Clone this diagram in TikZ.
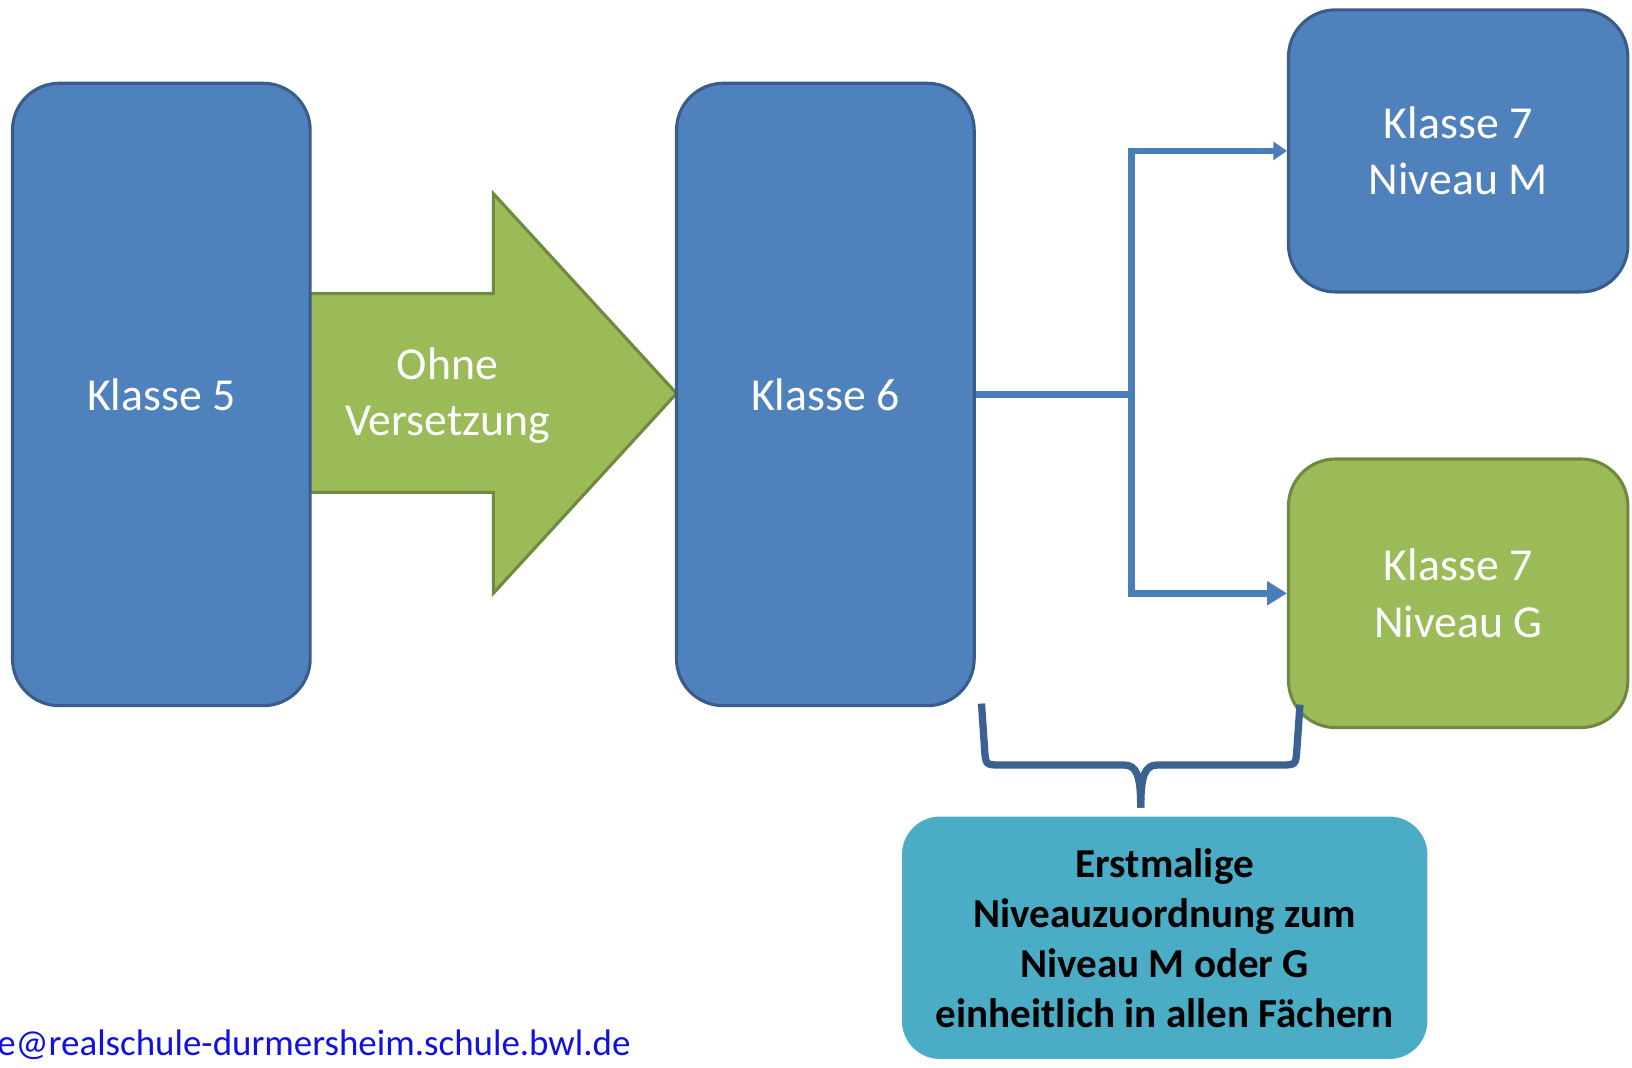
\documentclass[tikz,border=0pt]{standalone}
\usepackage{fontspec}
\setmainfont{Carlito}
\usetikzlibrary{arrows.meta,shadows}
\definecolor{boxblue}{HTML}{4F81BD}
\definecolor{boxblueline}{HTML}{385D8A}
\definecolor{boxgreen}{HTML}{9BBB59}
\definecolor{boxgreenline}{HTML}{71893F}
\definecolor{teal}{HTML}{4BACC6}
\definecolor{connblue}{HTML}{4A7EBB}
\definecolor{bracecol}{HTML}{3A6190}
\definecolor{mailblue}{HTML}{1010E0}
\tikzset{
  bluebox/.style={draw=boxblueline, fill=boxblue, line width=3pt, rounded corners=45pt,
    text=white, align=center, inner sep=0pt, font=\fontsize{44pt}{54pt}\selectfont},
  greenbox/.style={bluebox, draw=boxgreenline, fill=boxgreen},
  tealbox/.style={draw=white, fill=teal, line width=7pt, rounded corners=40pt,
    text=black, align=center, inner sep=0pt, font=\bfseries\fontsize{39.5pt}{48pt}\selectfont,
    drop shadow={opacity=0.35, shadow xshift=1.5pt, shadow yshift=-3pt}},
  conn/.style={draw=connblue, line width=6.5pt},
  tipsmall/.style={-{Triangle[length=13pt,width=17pt]}},
  tipbig/.style={-{Triangle[length=19pt,width=22pt]}},
  bracestyle/.style={draw=bracecol, line width=7pt, line cap=butt, line join=round},
  arrowtext/.style={text=white, align=center, font=\fontsize{44pt}{53pt}\selectfont}
}
\begin{document}
\begin{tikzpicture}[x=1pt,y=-1pt]
\useasboundingbox (0,0) rectangle (1568,1025.2);
% green block arrow
\draw[fill=boxgreen, draw=boxgreenline, line width=3pt, line join=miter]
  (296,282) -- (474,282) -- (474,186) -- (650,378) -- (474,570) -- (474,473) -- (296,473) -- cycle;
\node[arrowtext] (ohne) at (430,380) {Ohne\\Versetzung};
% boxes
\node[bluebox, minimum width=286pt, minimum height=598pt] (k5) at (155,379) {Klasse 5};
\node[bluebox, minimum width=286pt, minimum height=598pt] (k6) at (793,379) {Klasse 6};
\node[bluebox, minimum width=326pt, minimum height=271pt] (k7m) at (1401,145) {Klasse 7\\Niveau M};
\node[greenbox, minimum width=326pt, minimum height=258pt] (k7g) at (1401,570) {Klasse 7\\Niveau G};
\node[tealbox, minimum width=512pt, minimum height=240pt] (info) at (1119,901)
  {Erstmalige\\Niveauzuordnung zum\\Niveau M oder G\\einheitlich in allen Fächern};
% connectors
\coordinate (j) at (1087,379);
\draw[conn] (k6.east) -- (j);
\draw[conn, tipsmall] (j) |- (k7m.west);
\draw[conn, tipbig] (j) |- (k7g.west);
% brace
\coordinate (bl) at (943,676);
\coordinate (br) at (1249,677);
\coordinate (bt) at (1096,776);
\draw[bracestyle] (bl) -- (946,720) .. controls (947,735) .. (962,735) -- (1080,735)
  .. controls (1092,735) and (1096,745) .. (bt);
\draw[bracestyle] (br) -- (1246,720) .. controls (1245,735) .. (1230,735) -- (1112,735)
  .. controls (1100,735) and (1096,745) .. (bt);
% email
\node[anchor=base east, text=mailblue, inner sep=0pt, font=\fontsize{35.5pt}{40pt}\selectfont] (mail) at (606,1014)
  {e@realschule-durmersheim.schule.bwl.de};
\end{tikzpicture}
\end{document}
